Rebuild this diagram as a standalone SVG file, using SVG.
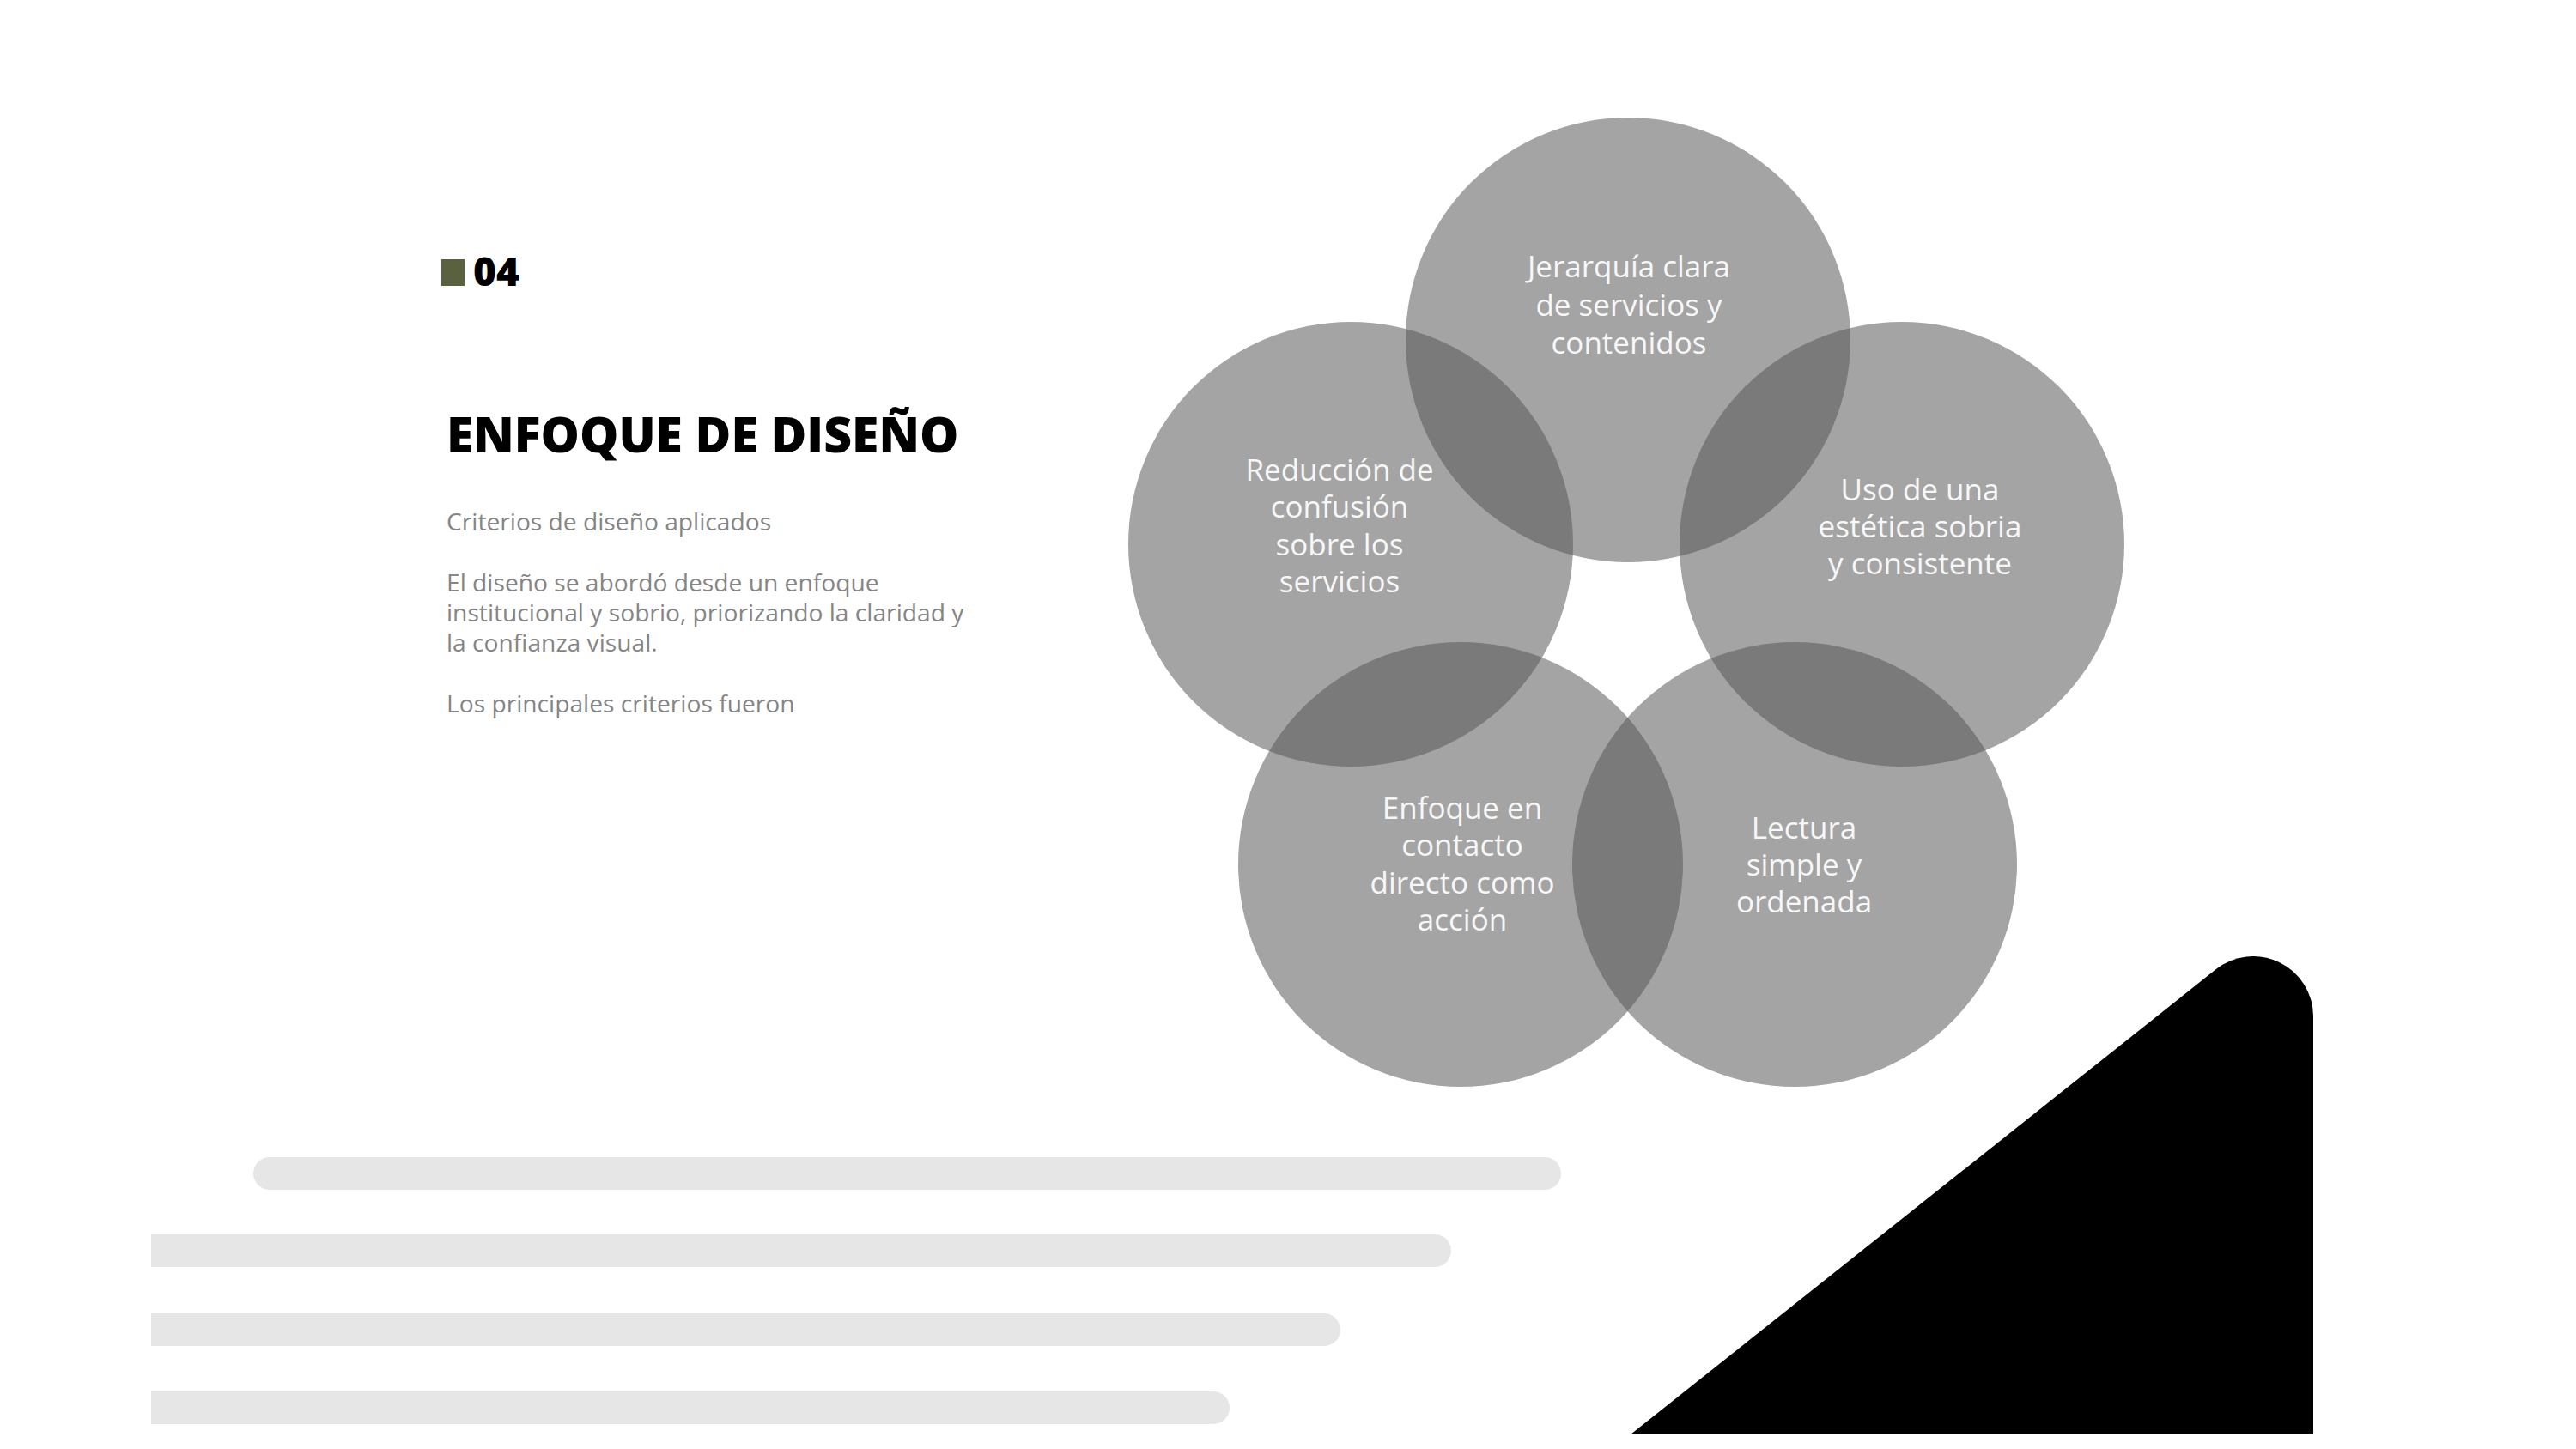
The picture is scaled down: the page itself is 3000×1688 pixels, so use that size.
<svg xmlns="http://www.w3.org/2000/svg" width="3000" height="1688" viewBox="0 0 3000 1688">
  <style>
    .circ { fill: #575757; fill-opacity: 0.54; }
    .ct { font-family: "Open Sans", "Noto Sans", "Liberation Sans", sans-serif; font-size: 35px; fill: #f7f7f7; text-anchor: middle; }
    .body { font-family: "Open Sans", "Noto Sans", "Liberation Sans", sans-serif; font-size: 28.2px; fill: #858585; }
    .bar { fill: #e6e6e6; }
  </style>
  <rect x="0" y="0" width="3000" height="1688" fill="#ffffff"/>

  <g id="header">
    <rect x="514" y="302" width="27" height="31" fill="#59613f"/>
    <text x="551" y="333" font-family="'Open Sans', 'Noto Sans', 'Liberation Sans', sans-serif" font-weight="800" font-size="46" fill="#000000">04</text>
    <text x="520" y="527" font-family="'Open Sans', 'Noto Sans', 'Liberation Sans', sans-serif" font-weight="800" font-size="57" fill="#000000">ENFOQUE DE DISEÑO</text>
  </g>

  <g id="intro-text">
    <text class="body" x="520" y="618">Criterios de diseño aplicados</text>
    <text class="body" x="520" y="689">El diseño se abordó desde un enfoque</text>
    <text class="body" x="520" y="724">institucional y sobrio, priorizando la claridad y</text>
    <text class="body" x="520" y="759">la confianza visual.</text>
    <text class="body" x="520" y="830">Los principales criterios fueron</text>
  </g>

  <g id="node-jerarquia">
    <circle class="circ" cx="1896" cy="396" r="259"/>
    <text class="ct" x="1897" y="323">Jerarquía clara</text>
    <text class="ct" x="1897" y="368">de servicios y</text>
    <text class="ct" x="1897" y="412">contenidos</text>
  </g>

  <g id="node-reduccion">
    <circle class="circ" cx="1573" cy="634" r="259"/>
    <text class="ct" x="1560" y="560">Reducción de</text>
    <text class="ct" x="1560" y="603">confusión</text>
    <text class="ct" x="1560" y="647">sobre los</text>
    <text class="ct" x="1560" y="690">servicios</text>
  </g>

  <g id="node-estetica">
    <circle class="circ" cx="2215" cy="634" r="259"/>
    <text class="ct" x="2236" y="583">Uso de una</text>
    <text class="ct" x="2236" y="626">estética sobria</text>
    <text class="ct" x="2236" y="669">y consistente</text>
  </g>

  <g id="node-contacto">
    <circle class="circ" cx="1701" cy="1007" r="259"/>
    <text class="ct" x="1703" y="954">Enfoque en</text>
    <text class="ct" x="1703" y="997">contacto</text>
    <text class="ct" x="1703" y="1041">directo como</text>
    <text class="ct" x="1703" y="1084">acción</text>
  </g>

  <g id="node-lectura">
    <circle class="circ" cx="2090" cy="1007" r="259"/>
    <text class="ct" x="2101" y="977">Lectura</text>
    <text class="ct" x="2101" y="1020">simple y</text>
    <text class="ct" x="2101" y="1063">ordenada</text>
  </g>

  <g id="connectors"></g>

  <g id="bars">
    <rect class="bar" x="295" y="1348" width="1523" height="38" rx="19" ry="19"/>
    <path class="bar" d="M176 1438 H1671 A19 19 0 0 1 1671 1476 H176 Z"/>
    <path class="bar" d="M176 1530 H1542 A19 19 0 0 1 1542 1568 H176 Z"/>
    <path class="bar" d="M176 1621 H1413 A19 19 0 0 1 1413 1659 H176 Z"/>
  </g>

  <g id="black-shape">
    <path d="M1899 1671 L2580.5 1129.3 A70 70 0 0 1 2694 1184 L2694 1671 Z" fill="#000000"/>
  </g>
</svg>
